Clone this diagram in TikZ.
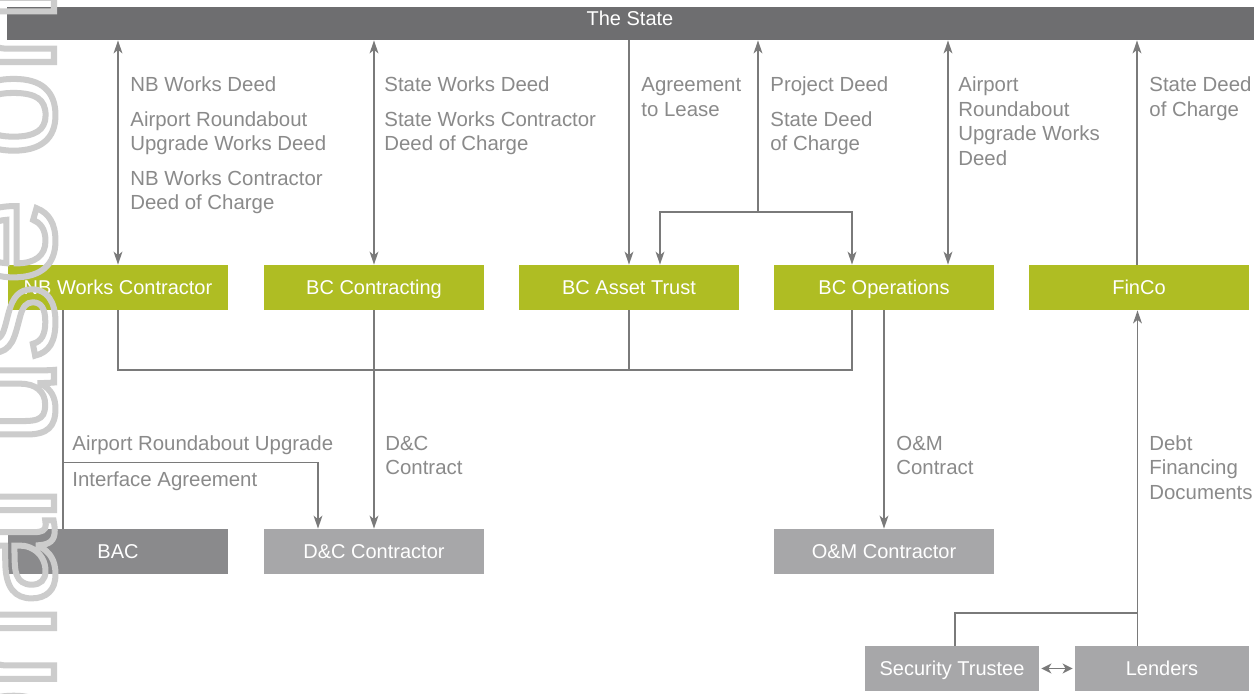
\documentclass[tikz,border=0pt]{standalone}
\usepackage{fontspec}
\setmainfont{Liberation Sans}
\usetikzlibrary{arrows.meta,calc}

\definecolor{statebar}{HTML}{6E6E70}
\definecolor{bcgreen}{HTML}{AFBD23}
\definecolor{bacgray}{HTML}{8A8A8C}
\definecolor{partygray}{HTML}{A7A7A9}
\definecolor{linegray}{HTML}{7A7A7A}
\definecolor{labelgray}{HTML}{8A8A8A}

\newcommand{\boxfont}{\fontsize{10pt}{12pt}\selectfont}
\newcommand{\lblfont}{\fontsize{10.2pt}{12.25pt}\selectfont}
\newcommand{\firstline}{\rule{0pt}{8pt}}
% stroked (outline) glyphs for the vertical watermark
\newcommand{\strokedtext}[1]{\special{pdf:code q 1 Tr 3 w 0.8 0.8 0.8 RG}#1\special{pdf:code Q}}

\begin{document}
\begin{tikzpicture}[x=0.5pt,y=-0.5pt,
  party/.style={minimum width=110pt,minimum height=22.5pt,inner sep=0pt,
    text=white,font=\boxfont,text height=7.2pt,text depth=0pt},
  sponsor/.style={party,fill=bcgreen},
  lbl/.style={anchor=north west,inner sep=0pt,align=left,font=\lblfont,text=labelgray},
  conn/.style={draw=linegray,line width=0.7pt},
  oneway/.style={conn,-{Stealth[length=6.5pt,width=4.4pt,inset=1.8pt]}},
  twoway/.style={conn,{Stealth[length=6.5pt,width=4.4pt,inset=1.8pt]}-{Stealth[length=6.5pt,width=4.4pt,inset=1.8pt]}},
  dblshort/.style={conn,{Stealth[length=5pt,width=5pt,inset=1.5pt]}-{Stealth[length=5pt,width=5pt,inset=1.5pt]},shorten <=1pt,shorten >=1pt},
  watermark/.style={rotate=90,anchor=base west,inner sep=0pt,font=\fontsize{76pt}{80pt}\selectfont}
]
\useasboundingbox (0,0) rectangle (1254,693);
\fill[white] (0,0) rectangle (1254,693);

% top bar
\node[fill=statebar,minimum width=623.5pt,minimum height=16.5pt,inner sep=0pt] (state) at (630.5,23.5) {};
\node[inner sep=0pt,text=white,font=\boxfont,text height=7.2pt,text depth=0pt] (statetext) at (630,18.5) {The State};

% project entities
\node[sponsor] (nbw) at (118,287.5) {NB Works Contractor};
\node[sponsor] (bcc) at (374,287.5) {BC Contracting};
\node[sponsor] (bcat) at (629,287.5) {BC Asset Trust};
\node[sponsor] (bco) at (884,287.5) {BC Operations};
\node[sponsor] (finco) at (1139,287.5) {FinCo};

% other parties
\node[party,fill=bacgray] (bac) at (118,551.5) {BAC};
\node[party,fill=partygray] (dc) at (374,551.5) {D\&C Contractor};
\node[party,fill=partygray] (om) at (884,551.5) {O\&M Contractor};
\node[party,fill=partygray,minimum width=87pt] (st) at (952,668.5) {Security Trustee};
\node[party,fill=partygray,minimum width=87pt] (len) at (1162,668.5) {Lenders};

% links to the State
\draw[twoway] (nbw.north) -- (nbw.north |- state.south);
\draw[twoway] (bcc.north) -- (bcc.north |- state.south);
\draw[oneway] (bcat.north |- state.south) -- (bcat.north);
\coordinate (split) at (758,212);
\draw[oneway] (split) -- (split |- state.south);
\draw[oneway] (split) -| ($(bcat.north)+(31,0)$);
\draw[oneway] (split) -| ($(bco.north)+(-32,0)$);
\coordinate (c5) at ($(bco.north)+(64,0)$);
\draw[twoway] (c5) -- (c5 |- state.south);
\coordinate (c6) at ($(finco.north)+(-2,0)$);
\draw[oneway] (c6) -- (c6 |- state.south);

% common bus below the entities
\coordinate (bus) at (0,370);
\draw[conn] (nbw.south) -- (nbw.south |- bus) -| ($(bco.south)+(-32,0)$);
\draw[conn] (bcat.south) -- (bcat.south |- bus);

% contracts with the lower parties
\coordinate (nbleft) at ($(nbw.south)+(-55,0)$);
\draw[conn] (nbleft) -- (nbleft |- bac.north);
\coordinate (iface) at (63,462.5);
\draw[oneway] (iface) -| ($(dc.north)+(-56,0)$);
\draw[oneway] (bcc.south) -- (dc.north);
\draw[oneway] (bco.south) -- (om.north);

% financing
\coordinate (debt) at ($(finco.south)+(-1.5,0)$);
\draw[oneway] (debt |- len.north) -- (debt);
\coordinate (secjoin) at (0,613);
\draw[conn] ($(st.north)+(3,0)$) |- (debt |- secjoin);
\draw[dblshort] (st.east) -- (len.west);

% labels
\node[lbl] (l1) at (130,75.5) {\firstline NB Works Deed\\[5pt]Airport Roundabout\\Upgrade Works Deed\\[5pt]NB Works Contractor\\Deed of Charge};
\node[lbl] (l2) at (384,75.5) {\firstline State Works Deed\\[5pt]State Works Contractor\\Deed of Charge};
\node[lbl] (l3) at (641,75.5) {\firstline Agreement\\to Lease};
\node[lbl] (l4) at (770,75.5) {\firstline Project Deed\\[5pt]State Deed\\of Charge};
\node[lbl] (l5) at (958,75.5) {\firstline Airport\\Roundabout\\Upgrade Works\\Deed};
\node[lbl] (l6) at (1149,75.5) {\firstline State Deed\\of Charge};
\node[lbl] (l7) at (72,434) {\firstline Airport Roundabout Upgrade};
\node[lbl] (l8) at (72,470) {\firstline Interface Agreement};
\node[lbl] (l9) at (385,434) {\firstline D\&C\\Contract};
\node[lbl] (l10) at (896,434) {\firstline O\&M\\Contract};
\node[lbl] (l11) at (1149,434) {\firstline Debt\\Financing\\Documents};

% vertical watermark
\node[watermark] (wm) at (54,1340) {\strokedtext{For personal use only}};
\end{tikzpicture}
\end{document}
